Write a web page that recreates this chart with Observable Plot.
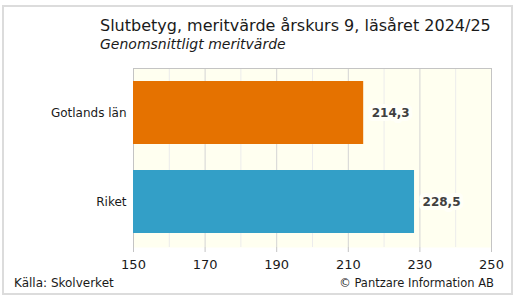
<!DOCTYPE html>
<html>
<head>
<meta charset="utf-8">
<script src="https://cdn.jsdelivr.net/npm/d3@7"></script>
<script src="https://cdn.jsdelivr.net/npm/@observablehq/plot@0.6"></script>
<style>
  html, body { margin: 0; padding: 0; background: #fff; }
  #wrap { position: relative; width: 515px; height: 300px; overflow: hidden; font-family: "DejaVu Sans", Verdana, sans-serif; }
  #border { position: absolute; left: 2px; top: 5px; width: 507px; height: 286px; border: 2px solid #dcdcdc; }
  #title { position: absolute; left: 100px; top: 16px; font-size: 16px; color: #1a1a1a; white-space: nowrap; }
  #subtitle { position: absolute; left: 100px; top: 36px; font-size: 14px; font-style: italic; color: #1a1a1a; white-space: nowrap; }
  #source { position: absolute; left: 14px; top: 276px; font-size: 12px; color: #1a1a1a; }
  #credit { position: absolute; right: 21px; top: 276px; font-size: 11.5px; color: #1a1a1a; }
  #chart { position: absolute; left: 0; top: 0; }
</style>
</head>
<body>
<div id="wrap">
  <div id="border"></div>
  <div id="chart"></div>
  <div id="title">Slutbetyg, meritvärde årskurs 9, läsåret 2024/25</div>
  <div id="subtitle">Genomsnittligt meritvärde</div>
  <div id="source">Källa: Skolverket</div>
  <div id="credit">© Pantzare Information AB</div>
</div>
<script>
const categories = ["Gotlands län", "Riket"];
const values = [214.3, 228.5];
const barColors = ["#e57200", "#339fc7"];
const majorTicks = [150, 170, 190, 210, 230, 250];
const minorTicks = [160, 180, 200, 220, 240];
const gridMajor = [170, 190, 210, 230];

const data = categories.map((c, i) => ({ name: c, value: values[i], color: barColors[i] }));
const fmt = v => v.toFixed(1).replace(".", ",");

const chart = Plot.plot({
  width: 515,
  height: 300,
  marginLeft: 133,
  marginRight: 24,
  marginTop: 68,
  marginBottom: 53,
  style: { fontFamily: "'DejaVu Sans', Verdana, sans-serif", background: "transparent", overflow: "visible" },
  x: { domain: [150, 250], label: null },
  y: { domain: categories, paddingInner: 0.29, paddingOuter: 0.145, label: null },
  marks: [
    Plot.frame({ fill: "#fffff0", stroke: null }),
    Plot.ruleX(minorTicks, { stroke: "#ececec", strokeWidth: 1 }),
    Plot.ruleX(gridMajor, { stroke: "#d4d4d4", strokeWidth: 1 }),
    Plot.ruleX([150, 250], { stroke: "#c4c4c4", strokeWidth: 1 }),
    Plot.frame({ anchor: "top", stroke: "#c4c4c4" }),
    Plot.barX(data, { x1: 150, x2: "value", y: "name", fill: "color" }),
    Plot.text(data, {
      x: "value", y: "name", text: d => fmt(d.value), dx: 8, textAnchor: "start",
      fontWeight: "bold", fontSize: 12, fill: "#404040",
      stroke: "#fffff8", strokeWidth: 8
    }),
    Plot.axisX(majorTicks, { ticks: majorTicks, tickSize: 5, tickPadding: 7, fontSize: 13, stroke: "#c4c4c4", color: "#1a1a1a", tickFormat: d => String(d), label: null }),
    Plot.axisY({ tickSize: 0, tickPadding: 7, fontSize: 12, color: "#1a1a1a", label: null })
  ]
});
document.getElementById("chart").appendChild(chart);
</script>
</body>
</html>
